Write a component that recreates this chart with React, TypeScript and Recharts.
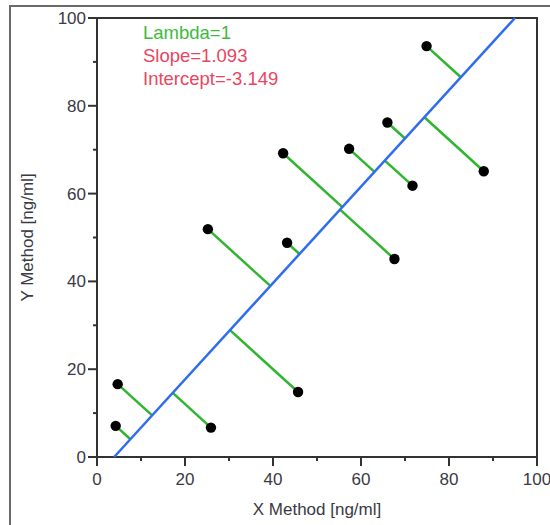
import React from 'react';
import { ScatterChart, Scatter, XAxis, YAxis, ReferenceLine, ReferenceArea, Label } from 'recharts';

// measured pairs, X method vs Y method
const xValues = [4.7, 4.25, 25.9, 25.2, 45.7, 42.3, 43.2, 57.3, 67.6, 66.0, 71.7, 74.9, 87.9];
const yValues = [16.6, 7.1, 6.7, 51.9, 14.8, 69.2, 48.8, 70.2, 45.1, 76.2, 61.8, 93.6, 65.1];
const axisTicks = [0, 10, 20, 30, 40, 50, 60, 70, 80, 90, 100];
const labelTicks = [0, 20, 40, 60, 80, 100];

const fitX = [3.9, 95.0];
const fitY = [0, 100];
const lambda = 1;

const FONT = '"Liberation Sans", Arial, sans-serif';
const TICK_MAJOR = 9;
const TICK_MINOR = 4;
const X_GAP = 4;
const Y_GAP = 2;
const AXIS_COLOR = '#333';

const points = xValues.map((x, i) => ({ x, y: yValues[i] }));

const fitSlope = (fitY[1] - fitY[0]) / (fitX[1] - fitX[0]);
const fitIntercept = fitY[0] - fitSlope * fitX[0];

// Deming foot point of each observation on the fitted line
const residuals = points.map((p) => {
  const d = (p.y - fitIntercept - fitSlope * p.x) / (fitSlope * fitSlope + lambda);
  const fx = p.x + fitSlope * d;
  return { from: p, to: { x: fx, y: fitIntercept + fitSlope * fx } };
});

function XTick(props: any) {
  const { x, y, payload } = props;
  const axisY = y - TICK_MAJOR - X_GAP;
  const major = labelTicks.includes(payload.value);
  return (
    <g>
      <line x1={x} x2={x} y1={axisY} y2={axisY + (major ? TICK_MAJOR : TICK_MINOR)} stroke={AXIS_COLOR} strokeWidth={2} />
      {major && (
        <text x={x} y={axisY + 28} textAnchor="middle" fontSize={17} fontFamily={FONT} fill="#3a3a44">
          {payload.value}
        </text>
      )}
    </g>
  );
}

function YTick(props: any) {
  const { x, y, payload } = props;
  const axisX = x + TICK_MAJOR + Y_GAP;
  const major = labelTicks.includes(payload.value);
  return (
    <g>
      <line x1={axisX} x2={axisX - (major ? TICK_MAJOR : TICK_MINOR)} y1={y} y2={y} stroke={AXIS_COLOR} strokeWidth={2} />
      {major && (
        <text x={x} y={y + 6} textAnchor="end" fontSize={17} fontFamily={FONT} fill="#3a3a44">
          {payload.value}
        </text>
      )}
    </g>
  );
}

export default function App() {
  return (
    <div style={{ position: 'fixed', left: 0, top: 0, width: 550, height: 525, overflow: 'hidden', background: '#fff' }}>
      <div style={{ position: 'absolute', left: 9, top: 5, width: 600, height: 600, borderLeft: '2px solid #6a6a6a', borderTop: '2px solid #6a6a6a' }} />
      <div style={{ position: 'absolute', left: 0, top: 0 }}>
        <ScatterChart width={550} height={525} margin={{ top: 18, right: 13, bottom: 38, left: 47 }}>
          <XAxis
            type="number"
            dataKey="x"
            domain={[0, 100]}
            ticks={axisTicks}
            interval={0}
            height={30}
            axisLine={false}
            tickLine={false}
            tickSize={TICK_MAJOR}
            tickMargin={X_GAP}
            tick={(p: any) => <XTick {...p} />}
          >
            <Label
              content={(p: any) => {
                const vb = p.viewBox;
                return (
                  <text x={vb.x + vb.width / 2} y={515} textAnchor="middle" fontSize={17} fontFamily={FONT} fill="#3a3a44">
                    X Method [ng/ml]
                  </text>
                );
              }}
            />
          </XAxis>
          <YAxis
            type="number"
            dataKey="y"
            domain={[0, 100]}
            ticks={axisTicks}
            interval={0}
            width={50}
            axisLine={false}
            tickLine={false}
            tickSize={TICK_MAJOR}
            tickMargin={Y_GAP}
            tick={(p: any) => <YTick {...p} />}
          >
            <Label
              content={(p: any) => {
                const vb = p.viewBox;
                const cy = vb.y + vb.height / 2;
                return (
                  <text x={33} y={cy} transform={`rotate(-90 33 ${cy})`} textAnchor="middle" fontSize={17} fontFamily={FONT} fill="#3a3a44">
                    Y Method [ng/ml]
                  </text>
                );
              }}
            />
          </YAxis>
          <ReferenceArea x1={0} x2={100} y1={0} y2={100} fill="none" stroke={AXIS_COLOR} strokeWidth={2} />
          {residuals.map((r, i) => (
            <ReferenceLine key={i} segment={[r.from, r.to]} stroke="#2fb52f" strokeWidth={2.5} />
          ))}
          <ReferenceLine
            segment={[
              { x: fitX[0], y: fitY[0] },
              { x: fitX[1], y: fitY[1] },
            ]}
            stroke="#2f6cf0"
            strokeWidth={2.5}
          />
          <Scatter
            data={points}
            isAnimationActive={false}
            shape={(p: any) => <circle cx={p.cx} cy={p.cy} r={5.2} fill="#000" />}
          />
        </ScatterChart>
      </div>
      <svg width={550} height={525} style={{ position: 'absolute', left: 0, top: 0, pointerEvents: 'none' }}>
        <text x={143} y={39} fontSize={18.5} fontFamily={FONT} fill="#3dbb3d">Lambda=1</text>
        <text x={143} y={62} fontSize={18.5} fontFamily={FONT} fill="#ea4560">Slope=1.093</text>
        <text x={143} y={85} fontSize={18.5} fontFamily={FONT} fill="#ea4560">Intercept=-3.149</text>
      </svg>
    </div>
  );
}
